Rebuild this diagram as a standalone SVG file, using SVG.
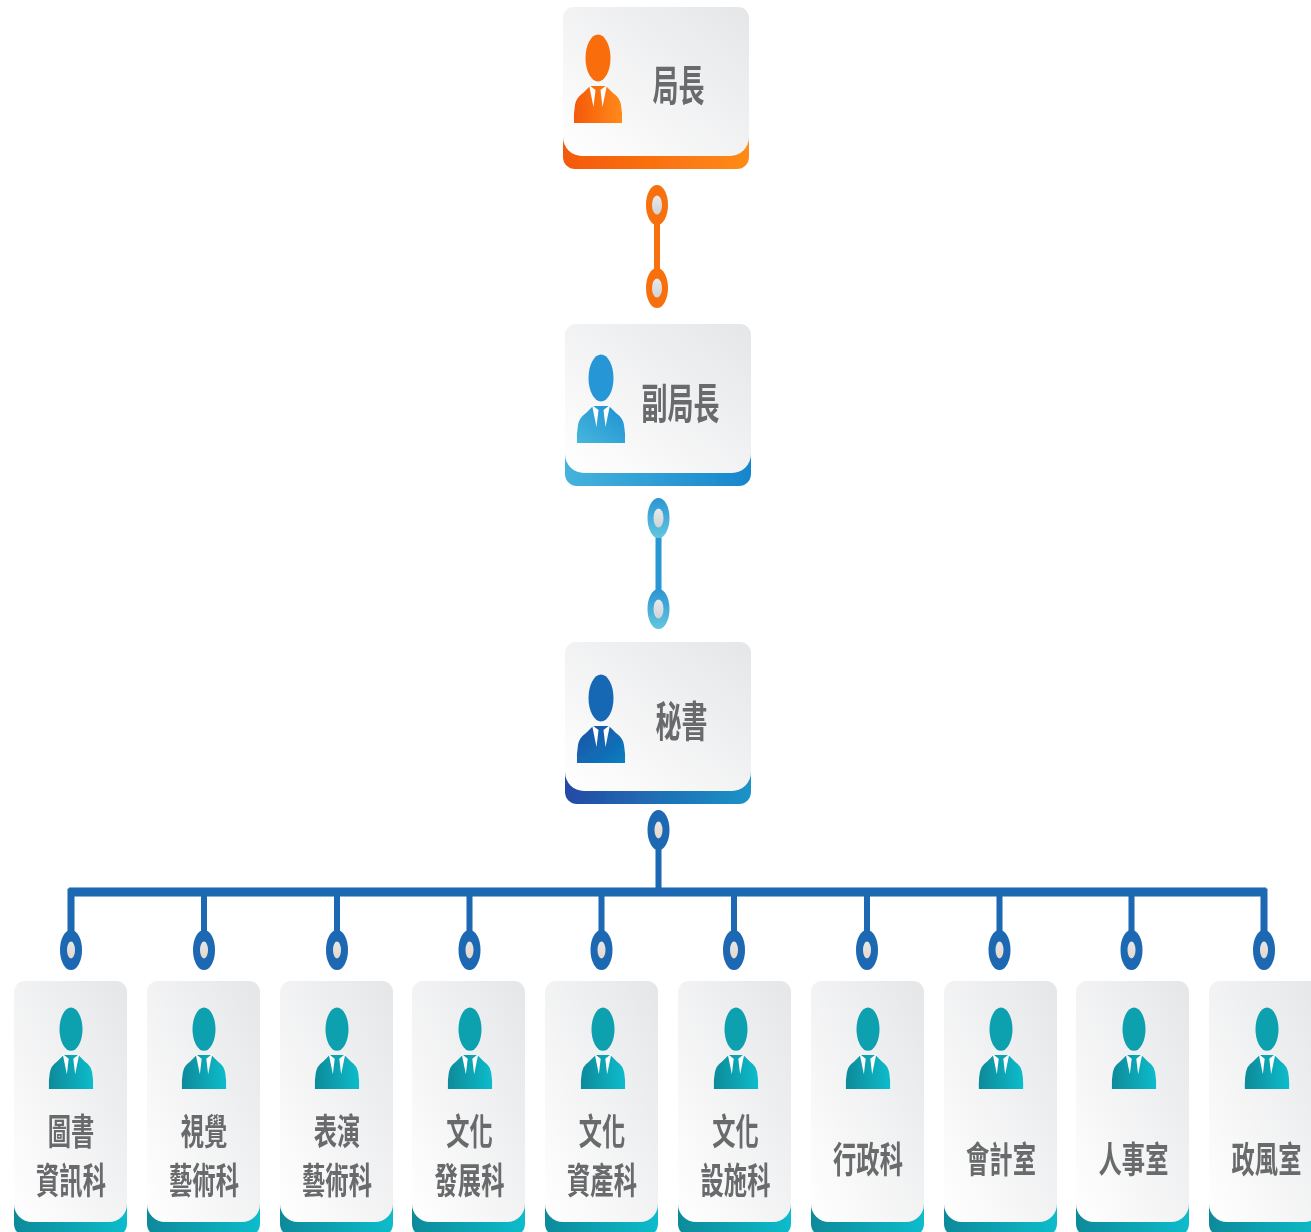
<svg xmlns="http://www.w3.org/2000/svg" width="1311" height="1232" viewBox="0 0 1311 1232">
<style>
g{filter:url(#soft)}
text{font-family:"Noto Sans CJK TC","Noto Sans CJK SC",sans-serif;font-weight:700;fill:#696a6c;text-anchor:middle}
.t1{font-size:26px}
.t2{font-size:23.3px}
.org{color:#f96d10}
.ltp{color:#2596d6}
.dkp{color:#1668b4}
.tea{color:#0ea0ae}
</style>
<defs>
<filter id="soft" x="-5%" y="-5%" width="110%" height="110%"><feGaussianBlur stdDeviation="0.7"/></filter>
<linearGradient id="face" x1="0" y1="1" x2="1" y2="0"><stop offset="0" stop-color="#ffffff"/><stop offset="1" stop-color="#e5e6e8"/></linearGradient>
<linearGradient id="hole" x1="0" y1="0" x2="0" y2="1"><stop offset="0" stop-color="#e8eaec"/><stop offset="1" stop-color="#cfd3d6"/></linearGradient>
<linearGradient id="hole2" x1="0" y1="0" x2="0" y2="1"><stop offset="0" stop-color="#e4e6e6"/><stop offset="1" stop-color="#e8d8c8"/></linearGradient>
<linearGradient id="org" x1="0" y1="0" x2="1" y2="0"><stop offset="0" stop-color="#f4590b"/><stop offset="1" stop-color="#ff8a17"/></linearGradient>
<linearGradient id="ltb" x1="0" y1="0" x2="1" y2="0"><stop offset="0" stop-color="#45b3dc"/><stop offset="1" stop-color="#1786cd"/></linearGradient>
<linearGradient id="ltp" x1="1" y1="0" x2="0" y2="1"><stop offset="0" stop-color="#1f8fd3"/><stop offset="1" stop-color="#46b8dc"/></linearGradient>
<linearGradient id="ltr" x1="0" y1="0" x2="0" y2="1"><stop offset="0" stop-color="#2b95d3"/><stop offset="1" stop-color="#62c6df"/></linearGradient>
<linearGradient id="dkb" x1="0" y1="0" x2="1" y2="0"><stop offset="0" stop-color="#254aa5"/><stop offset="1" stop-color="#1a93c6"/></linearGradient>
<linearGradient id="dkp" x1="0" y1="0" x2="1" y2="1"><stop offset="0" stop-color="#1b4fa6"/><stop offset="1" stop-color="#0b7fbf"/></linearGradient>
<linearGradient id="tea" x1="0" y1="0" x2="1" y2="0"><stop offset="0" stop-color="#0c8a9a"/><stop offset="1" stop-color="#10bccb"/></linearGradient>
<symbol id="wide" width="186" height="162" viewBox="0 0 186 162" overflow="visible">
<path d="M0 128V150A12 12 0 0 0 12 162H174A12 12 0 0 0 186 150V128Z"/>
<path fill="url(#face)" d="M11 0H175A11 11 0 0 1 186 11V130A19 19 0 0 1 167 149H19A19 19 0 0 1 0 130V11A11 11 0 0 1 11 0Z"/>
</symbol>
<symbol id="tall" width="113" height="255" viewBox="0 0 113 255" overflow="visible">
<path d="M0 215V243A12 12 0 0 0 12 255H101A12 12 0 0 0 113 243V215Z"/>
<path fill="url(#face)" d="M11 0H102A11 11 0 0 1 113 11V223A18 18 0 0 1 95 241H18A18 18 0 0 1 0 223V11A11 11 0 0 1 11 0Z"/>
</symbol>
<symbol id="person" width="48" height="88" viewBox="-24 0 48 88" overflow="visible">
<ellipse cx="0" cy="23" rx="12.500" ry="23.500" fill="currentColor"/>
<path d="M-24 88Q-24.500 78-23 70Q-22 63-15 58L-8 51H8L15 58Q22 63 23 70Q24.500 78 24 88Z"/>
<path fill="#fff" d="M-9 50L-2.500 55L-4.500 72ZM9 50L2.500 55L4.500 72Z"/>
</symbol>
<symbol id="ring" width="22" height="40" viewBox="-11 -20 22 40" overflow="visible">
<ellipse rx="11" ry="20"/>
<ellipse rx="5" ry="9.500" fill="url(#hole)"/>
</symbol>
<symbol id="ring2" width="22" height="40" viewBox="-11 -20 22 40" overflow="visible">
<ellipse rx="11" ry="20"/>
<ellipse rx="4" ry="8.500" fill="url(#hole2)"/>
</symbol>
</defs>

<g id="connectors" fill="none">
<path d="M657 222V272" stroke="#f7700f" stroke-width="6"/>
<path d="M658.500 535V592" stroke="#2b97d5" stroke-width="6"/>
<path d="M658.500 848V890" stroke="#1b67b3" stroke-width="6"/>
<path d="M71 932V892H1264V932" stroke="#1b67b3" stroke-width="7"/>
<path d="M69 892H1266" stroke="#1b67b3" stroke-width="9"/>
<path d="M204 892V932M337 892V932M469.500 892V932M601.500 892V932M734 892V932M867 892V932M999.500 892V932M1131.500 892V932" stroke="#1b67b3" stroke-width="6"/>
<use href="#ring" x="646" y="185" fill="#f7700f"/>
<use href="#ring" x="646" y="268" fill="#f7700f"/>
<use href="#ring" x="647.500" y="498" fill="url(#ltr)"/>
<use href="#ring" x="647.500" y="589" fill="url(#ltr)"/>
<use href="#ring2" x="647.500" y="810" fill="#1b67b3"/>
<use href="#ring2" x="60" y="930" fill="#1b67b3"/>
<use href="#ring2" x="193" y="930" fill="#1b67b3"/>
<use href="#ring2" x="326" y="930" fill="#1b67b3"/>
<use href="#ring2" x="458.500" y="930" fill="#1b67b3"/>
<use href="#ring2" x="590.500" y="930" fill="#1b67b3"/>
<use href="#ring2" x="723" y="930" fill="#1b67b3"/>
<use href="#ring2" x="856" y="930" fill="#1b67b3"/>
<use href="#ring2" x="988.500" y="930" fill="#1b67b3"/>
<use href="#ring2" x="1120.500" y="930" fill="#1b67b3"/>
<use href="#ring2" x="1253" y="930" fill="#1b67b3"/>
</g>

<g id="n-director">
<use href="#wide" x="563" y="7" fill="url(#org)"/>
<use href="#person" class="org" x="574" y="35" fill="url(#org)"/>
<text class="t1" transform="translate(678.500 101) scale(1 1.6)">局長</text>
</g>
<g id="n-deputy">
<use href="#wide" x="565" y="324" fill="url(#ltb)"/>
<use href="#person" class="ltp" x="577" y="355" fill="url(#ltp)"/>
<text class="t1" transform="translate(680.500 419) scale(1 1.6)">副局長</text>
</g>
<g id="n-secretary">
<use href="#wide" x="565" y="642" fill="url(#dkb)"/>
<use href="#person" class="dkp" x="577" y="675" fill="url(#dkp)"/>
<text class="t1" transform="translate(681.500 737) scale(1 1.6)">秘書</text>
</g>

<g id="n-library">
<use href="#tall" x="14" y="981" fill="url(#tea)"/>
<use href="#person" class="tea" x="48" y="1008" width="46" height="81" fill="url(#tea)" preserveAspectRatio="none"/>
<text class="t2" transform="translate(71 1145) scale(1 1.55)">圖書</text>
<text class="t2" transform="translate(71 1194) scale(1 1.55)">資訊科</text>
</g>
<g id="n-visual">
<use href="#tall" x="147" y="981" fill="url(#tea)"/>
<use href="#person" class="tea" x="181" y="1008" width="46" height="81" fill="url(#tea)" preserveAspectRatio="none"/>
<text class="t2" transform="translate(204 1145) scale(1 1.55)">視覺</text>
<text class="t2" transform="translate(204 1194) scale(1 1.55)">藝術科</text>
</g>
<g id="n-performing">
<use href="#tall" x="280" y="981" fill="url(#tea)"/>
<use href="#person" class="tea" x="314" y="1008" width="46" height="81" fill="url(#tea)" preserveAspectRatio="none"/>
<text class="t2" transform="translate(337 1145) scale(1 1.55)">表演</text>
<text class="t2" transform="translate(337 1194) scale(1 1.55)">藝術科</text>
</g>
<g id="n-development">
<use href="#tall" x="412" y="981" fill="url(#tea)"/>
<use href="#person" class="tea" x="447" y="1008" width="46" height="81" fill="url(#tea)" preserveAspectRatio="none"/>
<text class="t2" transform="translate(469.500 1145) scale(1 1.55)">文化</text>
<text class="t2" transform="translate(469.500 1194) scale(1 1.55)">發展科</text>
</g>
<g id="n-heritage">
<use href="#tall" x="545" y="981" fill="url(#tea)"/>
<use href="#person" class="tea" x="580" y="1008" width="46" height="81" fill="url(#tea)" preserveAspectRatio="none"/>
<text class="t2" transform="translate(602 1145) scale(1 1.55)">文化</text>
<text class="t2" transform="translate(602 1194) scale(1 1.55)">資產科</text>
</g>
<g id="n-facilities">
<use href="#tall" x="678" y="981" fill="url(#tea)"/>
<use href="#person" class="tea" x="713" y="1008" width="46" height="81" fill="url(#tea)" preserveAspectRatio="none"/>
<text class="t2" transform="translate(735.500 1145) scale(1 1.55)">文化</text>
<text class="t2" transform="translate(735.500 1194) scale(1 1.55)">設施科</text>
</g>
<g id="n-admin">
<use href="#tall" x="811" y="981" fill="url(#tea)"/>
<use href="#person" class="tea" x="845" y="1008" width="46" height="81" fill="url(#tea)" preserveAspectRatio="none"/>
<text class="t2" transform="translate(868 1173) scale(1 1.55)">行政科</text>
</g>
<g id="n-accounting">
<use href="#tall" x="944" y="981" fill="url(#tea)"/>
<use href="#person" class="tea" x="978" y="1008" width="46" height="81" fill="url(#tea)" preserveAspectRatio="none"/>
<text class="t2" transform="translate(1001 1173) scale(1 1.55)">會計室</text>
</g>
<g id="n-personnel">
<use href="#tall" x="1076" y="981" fill="url(#tea)"/>
<use href="#person" class="tea" x="1111" y="1008" width="46" height="81" fill="url(#tea)" preserveAspectRatio="none"/>
<text class="t2" transform="translate(1133.500 1173) scale(1 1.55)">人事室</text>
</g>
<g id="n-ethics">
<use href="#tall" x="1209" y="981" fill="url(#tea)"/>
<use href="#person" class="tea" x="1244" y="1008" width="46" height="81" fill="url(#tea)" preserveAspectRatio="none"/>
<text class="t2" transform="translate(1266.500 1173) scale(1 1.55)">政風室</text>
</g>
</svg>
